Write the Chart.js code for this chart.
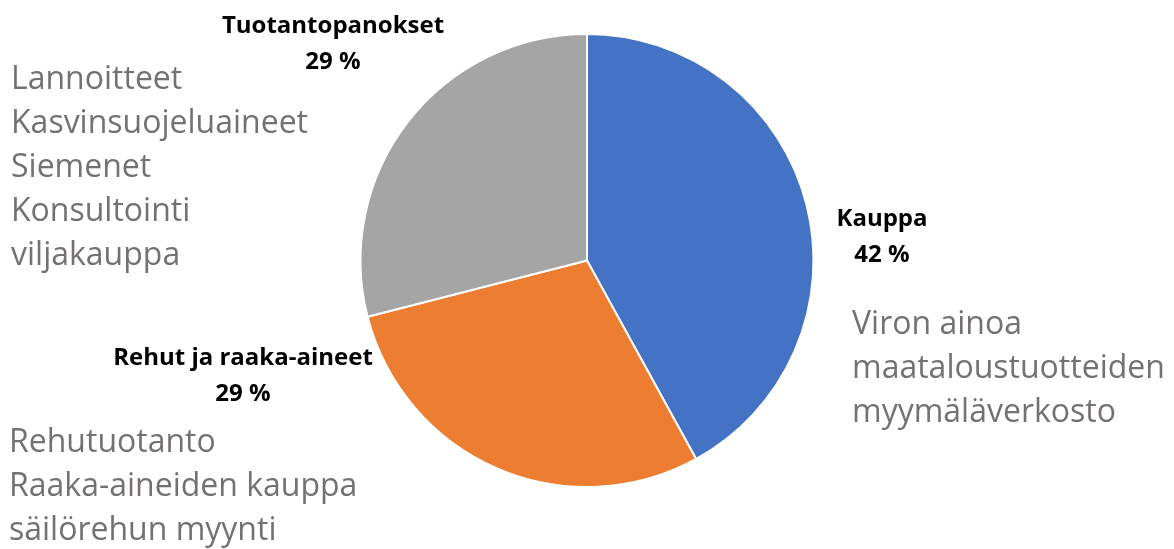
<!DOCTYPE html>
<html>
<head>
<meta charset="utf-8">
<script src="https://cdn.jsdelivr.net/npm/chart.js@4"></script>
<style>
  html, body { margin: 0; padding: 0; background: #fff; }
  #wrap { width: 1174px; height: 549px; position: relative; }
</style>
</head>
<body>
<div id="wrap"><canvas id="pie"></canvas></div>
<script>
// segments, clockwise from 12 o'clock
const segments = ["Kauppa", "Rehut ja raaka-aineet", "Tuotantopanokset"];
const shares = [42, 29, 29];
const colors = ["#4472C4", "#ED7D31", "#A5A5A5"];

// grey notes next to each segment
const notesKauppa = ["Viron ainoa", "maataloustuotteiden", "myymäläverkosto"];
const notesRehut = ["Rehutuotanto", "Raaka-aineiden kauppa", "säilörehun myynti"];
const notesTuotanto = ["Lannoitteet", "Kasvinsuojeluaineet", "Siemenet", "Konsultointi", "viljakauppa"];

// where the text blocks sit (pixels)
const labelPos = [
  { x: 882, y: 219 },   // Kauppa
  { x: 243, y: 358 },   // Rehut
  { x: 333, y: 26 }     // Tuotanto
];
const notePos = [
  { x: 852, y: 325, lines: notesKauppa },
  { x: 9, y: 443, lines: notesRehut },
  { x: 11, y: 80, lines: notesTuotanto }
];

const labelFont = "bold 24px 'Open Sans', sans-serif";
const noteFont = "32px 'Open Sans', sans-serif";

const textPlugin = {
  id: "pieText",
  afterDraw(chart) {
    const ctx = chart.ctx;
    const vals = chart.data.datasets[0].data;
    const total = vals.reduce((a, b) => a + b, 0);
    ctx.save();
    ctx.textBaseline = "middle";

    // bold category + percent
    ctx.font = labelFont;
    ctx.fillStyle = "#000";
    ctx.textAlign = "center";
    chart.data.labels.forEach((name, i) => {
      const p = labelPos[i];
      ctx.fillText(name, p.x, p.y);
      ctx.fillText(Math.round(vals[i] / total * 100) + " %", p.x, p.y + 36);
    });

    // grey descriptions
    ctx.font = noteFont;
    ctx.fillStyle = "#767171";
    ctx.textAlign = "left";
    notePos.forEach(n => {
      n.lines.forEach((t, k) => ctx.fillText(t, n.x, n.y + k * 44));
    });
    ctx.restore();
  }
};

new Chart(document.getElementById("pie"), {
  type: "pie",
  data: {
    labels: segments,
    datasets: [{
      data: shares,
      backgroundColor: colors,
      borderColor: "#ffffff",
      borderWidth: 2
    }]
  },
  options: {
    responsive: true,
    maintainAspectRatio: false,
    animation: false,
    layout: { padding: { top: 33, bottom: 61, left: 0, right: 0 } },
    plugins: {
      legend: { display: false },
      tooltip: { enabled: false }
    }
  },
  plugins: [textPlugin]
});
</script>
</body>
</html>
